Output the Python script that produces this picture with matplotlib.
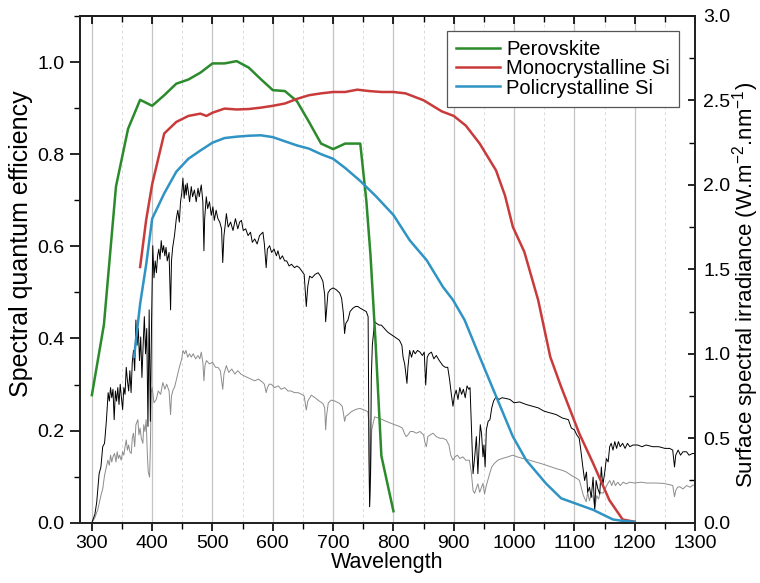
import matplotlib
matplotlib.use("Agg")
import matplotlib.pyplot as plt
from matplotlib.ticker import MultipleLocator, FormatStrFormatter

plt.rcParams['font.family'] = ['Liberation Sans', 'DejaVu Sans']
plt.rcParams['mathtext.fontset'] = 'custom'
plt.rcParams['mathtext.rm'] = 'Liberation Sans'
plt.rcParams['mathtext.it'] = 'Liberation Sans:italic'

# ---------------- data ----------------
perov_wl = [300, 320, 340, 360, 380, 400, 420, 440, 460, 480, 500, 520, 540, 560, 580, 600,
            620, 640, 660, 680, 700, 720, 745, 755, 762, 770, 780, 800]
perov_qe = [0.277, 0.43, 0.73, 0.855, 0.918, 0.905, 0.928, 0.953, 0.962, 0.977, 0.997, 0.997,
            1.002, 0.988, 0.963, 0.939, 0.937, 0.915, 0.87, 0.823, 0.811, 0.823, 0.823, 0.70,
            0.58, 0.40, 0.145, 0.025]

mono_wl = [380, 390, 400, 420, 440, 460, 480, 490, 500, 520, 540, 560, 580, 600, 620, 640, 660,
           680, 700, 720, 740, 760, 780, 800, 820, 850, 880, 900, 920, 943, 970, 985, 998, 1017,
           1040, 1060, 1078, 1108, 1131, 1158, 1180, 1200]
mono_qe = [0.555, 0.657, 0.735, 0.845, 0.870, 0.883, 0.888, 0.883, 0.890, 0.899, 0.897, 0.898,
           0.901, 0.905, 0.910, 0.920, 0.928, 0.932, 0.935, 0.935, 0.940, 0.937, 0.935, 0.935,
           0.932, 0.917, 0.893, 0.883, 0.862, 0.823, 0.765, 0.71, 0.642, 0.588, 0.483, 0.36,
           0.295, 0.194, 0.129, 0.049, 0.007, 0.002]

poly_wl = [370, 380, 390, 400, 420, 440, 460, 480, 500, 520, 540, 560, 580, 600, 620, 640, 660,
           680, 700, 720, 744, 770, 800, 827, 855, 882, 899, 918, 943, 970, 998, 1020, 1053, 1078,
           1131, 1164, 1180, 1200]
poly_qe = [0.36, 0.475, 0.56, 0.66, 0.715, 0.762, 0.79, 0.808, 0.825, 0.835, 0.838, 0.840, 0.841,
           0.837, 0.828, 0.819, 0.812, 0.80, 0.790, 0.77, 0.743, 0.71, 0.668, 0.613, 0.57, 0.512,
           0.483, 0.44, 0.36, 0.275, 0.187, 0.136, 0.085, 0.053, 0.028, 0.007, 0.004, 0.002]

spec_black_wl = [300, 305, 308, 312, 315, 318, 321, 324, 327, 329, 331, 333, 335, 337, 339, 341,
                 343, 345, 347, 349, 351, 353, 355, 357, 359, 361, 363, 365, 367, 369, 371, 373,
                 375, 377, 379, 381, 383, 385, 387, 389, 391, 393, 395, 397, 399, 401, 403, 405,
                 407, 409, 411, 413, 415, 417, 419, 421, 423, 425, 428, 430.5, 432, 434, 437, 440,
                 442.5, 445, 447, 449, 451, 453, 455, 456.5, 458, 460, 462, 464.8, 467, 470, 473,
                 476, 478, 481.4, 484, 485.8, 487, 489.7, 492, 495, 498, 500.7, 503, 506, 509, 512,
                 515, 517, 519, 521, 523, 526, 530, 534, 538, 542, 545, 548, 551, 555, 559, 563,
                 566, 570, 574, 578, 583.6, 586, 589, 591, 594.7, 598, 602, 606, 608.5, 612, 616,
                 619.6, 623, 627, 631, 636, 640, 644, 648, 652, 655.5, 658, 661, 665, 670, 675,
                 679, 683, 686, 687.6, 689, 691.4, 695, 700, 705, 710.8, 714, 717, 719, 721,
                 724.6, 728, 732.8, 737, 741, 745, 750, 755, 758, 759.5, 760.5, 762, 763.3, 765,
                 768.8, 772, 776, 780, 785, 790, 793.7, 798, 802, 806, 810, 814, 816, 818.6, 820,
                 822.4, 824, 826.9, 830, 833, 836, 840, 844, 848, 851, 853.5, 856, 859, 863, 867,
                 871, 876, 882, 886, 890, 893, 896, 898.7, 901, 904, 907, 910, 913, 916, 919, 922,
                 925, 927, 929, 932, 935, 937.5, 940, 942, 944, 946, 948.5, 950, 952, 954, 957,
                 960, 963, 966, 970, 975, 980, 987, 993, 1000, 1009, 1020, 1030, 1040, 1050, 1060,
                 1070, 1080, 1090, 1095, 1100, 1104, 1108, 1111, 1114, 1117, 1120, 1122, 1125,
                 1128, 1131, 1133.7, 1136, 1139, 1142, 1144.7, 1147, 1150, 1153, 1156, 1158.5,
                 1161, 1164, 1167, 1170, 1173, 1176, 1180, 1184, 1188, 1192, 1197, 1205, 1212,
                 1219, 1230, 1240, 1250, 1258, 1263, 1266, 1268, 1272, 1276, 1280, 1286, 1290,
                 1296, 1300]
spec_black = [0.00, 0.05, 0.12, 0.29, 0.33, 0.45, 0.47, 0.60, 0.77, 0.72, 0.80, 0.74, 0.79, 0.61,
              0.78, 0.72, 0.80, 0.70, 0.82, 0.74, 0.67, 0.80, 0.76, 0.92, 0.84, 0.78, 0.90, 0.77,
              0.95, 1.02, 0.90, 1.20, 1.05, 1.15, 0.96, 1.10, 0.86, 1.05, 1.22, 1.00, 1.15, 0.57,
              1.26, 0.60, 1.20, 1.64, 1.45, 1.55, 1.48, 1.58, 1.62, 1.56, 1.67, 1.60, 1.64, 1.58,
              1.63, 1.55, 1.60, 1.26, 1.55, 1.63, 1.70, 1.80, 1.85, 1.78, 1.90, 1.95, 2.04, 1.92,
              2.00, 1.94, 2.01, 1.96, 1.90, 1.99, 1.93, 1.97, 1.90, 1.98, 1.93, 2.00, 1.90, 1.61,
              1.80, 1.93, 1.86, 1.90, 1.82, 1.87, 1.79, 1.85, 1.80, 1.78, 1.74, 1.54, 1.70, 1.76,
              1.83, 1.75, 1.78, 1.73, 1.80, 1.74, 1.78, 1.79, 1.73, 1.74, 1.70, 1.72, 1.66, 1.68,
              1.65, 1.70, 1.72, 1.65, 1.51, 1.62, 1.64, 1.60, 1.62, 1.58, 1.61, 1.56, 1.58, 1.55,
              1.55, 1.52, 1.53, 1.51, 1.52, 1.51, 1.49, 1.47, 1.28, 1.40, 1.46, 1.45, 1.47, 1.48,
              1.46, 1.43, 1.35, 1.19, 1.25, 1.36, 1.38, 1.39, 1.38, 1.36, 1.33, 1.24, 1.12, 1.18,
              1.20, 1.25, 1.27, 1.28, 1.28, 1.27, 1.26, 1.25, 1.22, 0.40, 0.095, 0.30, 0.86, 1.05,
              1.19, 1.18, 1.17, 1.17, 1.15, 1.13, 1.12, 1.11, 1.10, 1.09, 1.08, 1.05, 0.98, 0.94,
              0.90, 0.825, 0.92, 1.02, 0.98, 1.02, 1.00, 1.02, 1.01, 0.99, 1.01, 0.815, 0.98, 1.00,
              1.01, 0.97, 0.99, 0.96, 0.93, 0.92, 0.92, 0.85, 0.76, 0.69, 0.75, 0.785, 0.73, 0.80,
              0.76, 0.79, 0.74, 0.81, 0.79, 0.80, 0.60, 0.29, 0.40, 0.51, 0.29, 0.45, 0.58, 0.53,
              0.39, 0.46, 0.33, 0.55, 0.60, 0.61, 0.68, 0.72, 0.745, 0.73, 0.74, 0.735, 0.73, 0.71,
              0.715, 0.70, 0.69, 0.68, 0.66, 0.65, 0.64, 0.62, 0.61, 0.56, 0.55, 0.52, 0.50, 0.42,
              0.33, 0.25, 0.30, 0.18, 0.21, 0.15, 0.27, 0.075, 0.25, 0.20, 0.17, 0.33, 0.22, 0.29,
              0.38, 0.36, 0.45, 0.47, 0.43, 0.48, 0.44, 0.48, 0.45, 0.47, 0.44, 0.47, 0.45, 0.46,
              0.46, 0.45, 0.46, 0.45, 0.45, 0.44, 0.44, 0.43, 0.33, 0.40, 0.43, 0.40, 0.42, 0.42,
              0.40, 0.41, 0.41]

spec_grey_wl = [300, 305, 310, 315.6, 318, 321, 324, 326.5, 329, 331, 333, 335, 337.6, 340, 342,
                344, 346, 348.7, 351, 353, 355, 357, 359, 361, 363, 365.3, 367, 369, 371, 373,
                376.3, 378, 380, 382, 384.6, 386, 388, 390, 392, 393.5, 395.7, 397, 398.5, 400,
                403, 406.8, 410, 414, 417.7, 421, 424, 426, 428, 430.5, 432, 435, 437, 441, 445,
                449, 451, 453.7, 456, 459, 462, 464.8, 468, 472, 475.8, 479, 481.4, 484, 485.8,
                487.5, 490, 495, 500, 505, 509, 513, 517, 519, 522.9, 527, 532, 537, 542, 547,
                552, 558, 564, 570, 576, 580, 583.6, 586, 589, 591, 594, 597.5, 603, 609, 614,
                619.6, 625, 630, 636, 642, 648, 652, 655.5, 658, 663.8, 670, 677, 683, 686, 687.6,
                689, 692, 697, 703, 710.8, 715, 717, 719, 721, 725, 730, 737, 744, 750, 757.7, 759,
                760.5, 762, 764, 768.8, 775, 782, 788, 795, 802, 810, 815, 818, 821, 824, 828,
                832.5, 838, 844, 850, 852.5, 854.6, 857, 861, 865.6, 871, 877, 882, 887.7, 892,
                895, 898.7, 902, 906, 910, 915, 920, 926, 929, 932, 934.6, 937, 940, 943, 946,
                948.5, 951, 954, 959.5, 963, 967, 973, 980, 990, 998, 1005, 1015, 1026, 1035,
                1045, 1053.6, 1062, 1070, 1080, 1086.8, 1095, 1100, 1105, 1108.5, 1112, 1115,
                1119.6, 1122, 1125, 1128, 1130.7, 1134, 1137, 1140, 1143, 1147.5, 1151, 1155,
                1158.6, 1162, 1165, 1168, 1172, 1176, 1181, 1186, 1191.7, 1200, 1210, 1220, 1235,
                1247, 1258, 1263, 1266, 1268, 1271, 1274.6, 1280, 1286, 1292, 1296.7, 1300]
spec_grey = [0.0, 0.03, 0.08, 0.17, 0.20, 0.28, 0.33, 0.37, 0.34, 0.40, 0.36, 0.39, 0.41, 0.36,
             0.42, 0.38, 0.40, 0.37, 0.42, 0.40, 0.45, 0.49, 0.43, 0.46, 0.42, 0.41, 0.50, 0.53,
             0.45, 0.58, 0.61, 0.52, 0.56, 0.50, 0.47, 0.58, 0.54, 0.61, 0.40, 0.30, 0.27, 0.45,
             0.77, 0.80, 0.71, 0.73, 0.78, 0.76, 0.83, 0.79, 0.82, 0.80, 0.78, 0.64, 0.75, 0.79,
             0.80, 0.86, 0.92, 0.97, 1.02, 1.00, 1.02, 0.98, 1.00, 0.98, 1.00, 0.97, 0.99, 0.97,
             1.01, 0.95, 0.84, 0.93, 0.96, 0.94, 0.95, 0.92, 0.92, 0.90, 0.79, 0.88, 0.93, 0.89,
             0.91, 0.88, 0.90, 0.88, 0.87, 0.86, 0.85, 0.84, 0.85, 0.84, 0.83, 0.82, 0.77, 0.80,
             0.82, 0.82, 0.80, 0.81, 0.79, 0.80, 0.78, 0.78, 0.77, 0.77, 0.76, 0.75, 0.667, 0.72,
             0.755, 0.74, 0.72, 0.706, 0.68, 0.55, 0.63, 0.71, 0.726, 0.72, 0.706, 0.69, 0.65,
             0.60, 0.63, 0.64, 0.657, 0.67, 0.677, 0.67, 0.657, 0.60, 0.095, 0.25, 0.55, 0.627,
             0.62, 0.61, 0.60, 0.59, 0.58, 0.57, 0.56, 0.53, 0.51, 0.52, 0.54, 0.54, 0.53, 0.54,
             0.52, 0.47, 0.45, 0.51, 0.52, 0.53, 0.51, 0.50, 0.50, 0.49, 0.46, 0.40, 0.37, 0.39,
             0.40, 0.38, 0.39, 0.37, 0.37, 0.30, 0.19, 0.174, 0.20, 0.23, 0.18, 0.21, 0.233, 0.17,
             0.22, 0.29, 0.33, 0.35, 0.37, 0.38, 0.39, 0.40, 0.39, 0.38, 0.37, 0.36, 0.35, 0.34,
             0.33, 0.32, 0.31, 0.30, 0.28, 0.27, 0.26, 0.25, 0.20, 0.16, 0.124, 0.18, 0.13, 0.17,
             0.154, 0.09, 0.16, 0.14, 0.18, 0.174, 0.20, 0.23, 0.25, 0.22, 0.25, 0.22, 0.24, 0.22,
             0.24, 0.23, 0.24, 0.235, 0.24, 0.235, 0.235, 0.233, 0.225, 0.22, 0.154, 0.19, 0.21,
             0.213, 0.20, 0.22, 0.21, 0.223, 0.22]

series_labels = ["Perovskite", "Monocrystalline Si", "Policrystalline Si"]
series_colors = ["#2b8a2b", "#c93b3b", "#2f93c4"]

# ---------------- figure ----------------
fig = plt.figure(figsize=(7.6, 5.83), dpi=100)
ax1 = fig.add_axes([0.105, 0.1034, 0.8095, 0.8692])
ax2 = ax1.twinx()
ax1.set_zorder(ax2.get_zorder() + 1)
ax1.patch.set_visible(False)

# spectra on right axis (behind)
ax2.plot(spec_grey_wl, spec_grey, color="#8c8c8c", lw=0.7, zorder=2)
ax2.plot(spec_black_wl, spec_black, color="black", lw=0.7, zorder=3)

# vertical grid on ax2 (lowest layer)
for xv in range(300, 1301, 100):
    ax2.axvline(xv, color="#c4c4c4", lw=0.9, zorder=0)
for xv in range(350, 1300, 100):
    ax2.axvline(xv, color="#dadada", lw=0.7, ls=(0, (3, 3)), zorder=0)

# QE curves
for wl, qe, lab, col in zip([perov_wl, mono_wl, poly_wl], [perov_qe, mono_qe, poly_qe],
                            series_labels, series_colors):
    ax1.plot(wl, qe, color=col, lw=1.8, label=lab)

ax1.set_xlim(280, 1300)
ax1.set_ylim(0, 1.1)
ax2.set_ylim(0, 3.0)

ax1.xaxis.set_major_locator(MultipleLocator(100))
ax1.xaxis.set_minor_locator(MultipleLocator(50))
ax1.yaxis.set_major_locator(MultipleLocator(0.2))
ax1.yaxis.set_minor_locator(MultipleLocator(0.1))
ax2.yaxis.set_major_locator(MultipleLocator(0.5))
ax2.yaxis.set_minor_locator(MultipleLocator(0.25))

ax1.yaxis.set_major_formatter(FormatStrFormatter('%.1f'))
ax2.yaxis.set_major_formatter(FormatStrFormatter('%.1f'))

tfs = 14
ax1.tick_params(axis='x', which='major', direction='out', length=6, width=1.2, labelsize=tfs, pad=3)
ax1.tick_params(axis='x', which='minor', direction='out', length=4, width=1.0)
ax1.tick_params(axis='y', which='major', direction='out', length=7, width=1.2, labelsize=tfs, pad=4)
ax1.tick_params(axis='y', which='minor', direction='out', length=4, width=1.0)
ax2.tick_params(axis='y', which='major', direction='in', length=5, width=1.2, labelsize=tfs, pad=6)
ax2.tick_params(axis='y', which='minor', direction='in', length=4, width=1.0)

sec = ax1.secondary_xaxis('top')
sec.xaxis.set_major_locator(MultipleLocator(100))
sec.xaxis.set_minor_locator(MultipleLocator(50))
sec.tick_params(axis='x', which='major', direction='in', length=6, width=1.2, labeltop=False)
sec.tick_params(axis='x', which='minor', direction='in', length=4, width=1.0)

for ax in (ax1, ax2):
    for sp in ax.spines.values():
        sp.set_linewidth(1.3)
        sp.set_color("#222222")
sec.spines['top'].set_linewidth(1.3)

ax1.set_xlabel("Wavelength", fontsize=15.5, labelpad=0)
ax1.set_ylabel("Spectral quantum efficiency", fontsize=18)
ax1.yaxis.set_label_coords(-0.076, 0.55)
ax2.set_ylabel("Surface spectral irradiance (W.m$^{-2}$.nm$^{-1}$)", fontsize=16)
ax2.yaxis.set_label_coords(1.057, 0.47)

leg = ax1.legend(loc="upper right", bbox_to_anchor=(0.974, 0.971), borderaxespad=0,
                 fontsize=14.5, fancybox=False, framealpha=1, edgecolor="#555555",
                 handlelength=2.2, handletextpad=0.3, labelspacing=0.02, borderpad=0.45)
leg.get_frame().set_linewidth(0.9)

fig.savefig("out.png", dpi=100)
